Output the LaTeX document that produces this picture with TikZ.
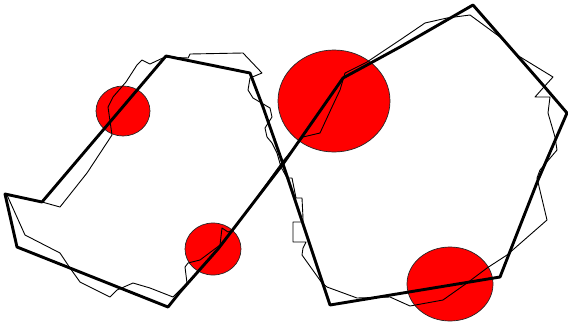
\documentclass[tikz,border=0pt]{standalone}
\begin{document}
\begin{tikzpicture}[x=1pt,y=-1pt,
    spot/.style={fill=red,draw=black!85,line width=0.7pt},
    outline/.style={line width=2.9pt,line join=round},
    trace/.style={line width=0.9pt,line join=round}]
  \useasboundingbox (0,0) rectangle (568,325);

  % red spots
  \filldraw[spot] (123,111) ellipse [x radius=27pt, y radius=25pt];
  \filldraw[spot] (213,249) ellipse [x radius=28pt, y radius=26pt];
  \filldraw[spot] (334,101) ellipse [x radius=56pt, y radius=51pt];
  \filldraw[spot] (450,284) ellipse [x radius=43pt, y radius=37pt];

  % thin jagged trace
  \draw[trace] (42,202) -- (60,207) -- (87,173) -- (112,135) -- (108,107) -- (113,97)
    -- (126,82) -- (137,65) -- (142,60) -- (150,64) -- (165,57) -- (188,58) -- (190,54)
    -- (243,53) -- (262,73) -- (250,78) -- (248,90) -- (253,98) -- (270,108) -- (272,117)
    -- (265,128) -- (267,137) -- (272,143) -- (277,153) -- (281,167) -- (287,178)
    -- (292,178) -- (296,198) -- (302,198) -- (303,218) -- (303,222) -- (293,222)
    -- (293,242) -- (306,242) -- (303,248) -- (302,255) -- (322,283) -- (327,287)
    -- (357,298) -- (390,297) -- (410,306) -- (443,300) -- (467,283) -- (487,268)
    -- (507,255) -- (547,220) -- (537,178) -- (540,170) -- (557,150) -- (555,137)
    -- (548,113) -- (550,97) -- (535,97) -- (543,88) -- (553,77) -- (517,55)
    -- (500,37) -- (470,15) -- (447,18) -- (425,23) -- (400,40) -- (367,62)
    -- (345,73) -- (340,90) -- (332,107) -- (320,133) -- (303,137) -- (283,161)
    -- (233,230) -- (228,232) -- (222,228) -- (220,245) -- (200,260) -- (188,263)
    -- (185,267) -- (187,283) -- (177,293) -- (173,297) -- (150,288) -- (133,283)
    -- (117,290) -- (110,297) -- (80,282) -- (70,268) -- (60,253) -- (25,235)
    -- (7,195) -- cycle;

  % heavy outline
  \draw[outline] (166,56) -- (250,73) -- (263,107) -- (283,164) -- (330,305)
    -- (500,277) -- (538,180) -- (567,113) -- (543,85) -- (473,5) -- (400,47)
    -- (367,65) -- (343,78) -- (283,164) -- (218,249) -- (180,292) -- (168,307)
    -- (17,247) -- (5,194) -- (42,202) -- cycle;
\end{tikzpicture}
\end{document}
